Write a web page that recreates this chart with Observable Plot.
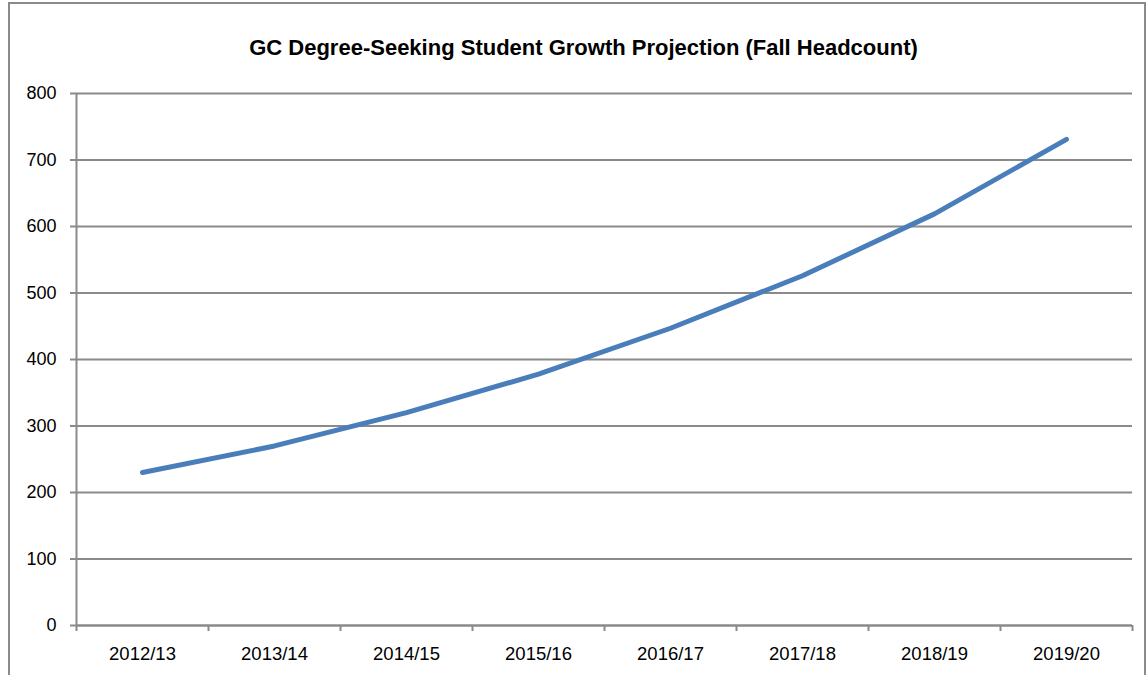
<!DOCTYPE html>
<html>
<head>
<meta charset="utf-8">
<script src="https://cdn.jsdelivr.net/npm/d3@7"></script>
<script src="https://cdn.jsdelivr.net/npm/@observablehq/plot@0.6"></script>
<style>
  html, body { margin: 0; padding: 0; background: #fff; }
  #wrap { position: relative; width: 1147px; height: 675px; overflow: hidden; }
  #border { position: absolute; left: 8px; top: 2px; width: 1138px; height: 700px; border: 2px solid #8a8a8a; box-sizing: border-box; }
  #chart { position: absolute; left: 0; top: 0; }
</style>
</head>
<body>
<div id="wrap"><div id="border"></div><div id="chart"></div></div>
<script>
const title = "GC Degree-Seeking Student Growth Projection (Fall Headcount)";
const years = ["2012/13", "2013/14", "2014/15", "2015/16", "2016/17", "2017/18", "2018/19", "2019/20"];
const headcount = [230, 270, 320, 378, 447, 526, 619, 731];
const yTicks = [0, 100, 200, 300, 400, 500, 600, 700, 800];

const data = years.map((year, i) => ({year, value: headcount[i]}));

const W = 1147, H = 675, ml = 76, mr = 15, mt = 93, mb = 50;
const step = (W - ml - mr) / years.length;
const gray = "#8a8a8a";
const font = "Liberation Sans, Arial, sans-serif";

const chart = Plot.plot({
  width: W,
  height: H,
  marginLeft: ml,
  marginRight: mr,
  marginTop: mt,
  marginBottom: mb,
  style: {fontFamily: font, fontSize: "18px", color: "#000", background: "transparent"},
  x: {type: "band", domain: years, padding: 0},
  y: {domain: [0, 800]},
  marks: [
    Plot.gridY(yTicks, {stroke: gray, strokeOpacity: 1, strokeWidth: 2}),
    Plot.axisY(yTicks, {tickSize: 6, tickPadding: 14, stroke: gray, strokeWidth: 2, fontSize: 18, label: null, tickFormat: d => d}),
    Plot.axisX({tickSize: 0, tickPadding: 21, fontSize: 18.5, label: null}),
    Plot.ruleY([0], {stroke: gray, strokeWidth: 2}),
    Plot.ruleX([years[0]], {dx: -step / 2, stroke: gray, strokeWidth: 2}),
    Plot.ruleX(years, {x: d => d, y1: 0, y2: 0, insetBottom: -6, dx: -step / 2, stroke: gray, strokeWidth: 2}),
    Plot.ruleX([years[years.length - 1]], {y1: 0, y2: 0, insetBottom: -6, dx: step / 2, stroke: gray, strokeWidth: 2}),
    Plot.line(data, {x: "year", y: "value", stroke: "#4a7ebb", strokeWidth: 5, strokeLinecap: "round", strokeLinejoin: "round"}),
    Plot.text([title], {frameAnchor: "top", lineAnchor: "middle", dy: -46, dx: -21, text: d => d, fontSize: 22, fontWeight: "bold", fill: "#000"})
  ]
});
document.getElementById("chart").appendChild(chart);
</script>
</body>
</html>
